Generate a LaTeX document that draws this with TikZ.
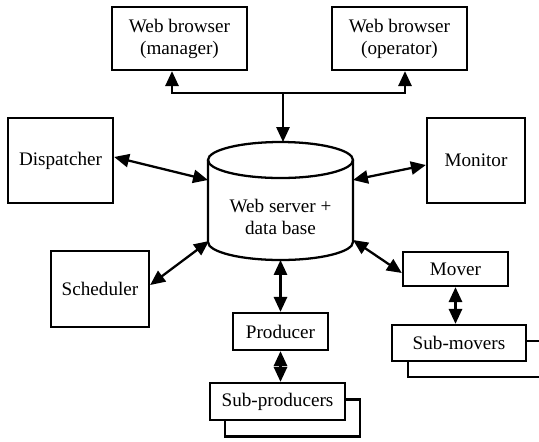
\documentclass[tikz,border=0pt]{standalone}
\usepackage{fontspec}
\setmainfont{Liberation Serif}
\usetikzlibrary{arrows.meta}
\usetikzlibrary{positioning}
\usetikzlibrary{calc}

\begin{document}
\begin{tikzpicture}[x=0.02cm, y=-0.02cm,
  unit/.style={draw, fill=white, line width=1.3pt, inner sep=0pt, align=center,
    font=\fontsize{10.9}{12.5}\selectfont},
  arr/.style={-{Triangle[length=8.5pt,width=7.5pt]}, line width=1.3pt},
  arrboth/.style={{Triangle[length=8.5pt,width=7.5pt]}-{Triangle[length=8.5pt,width=7.5pt]}, line width=1.3pt}]

  \def\u{0.02cm};

  \clip (0,0) rectangle (539,441);

  %browsers
  \node[unit, minimum width=135*\u, minimum height=63*\u] (wbm) at (179.5,38.5) {Web browser\\(manager)};
  \node[unit, minimum width=135*\u, minimum height=63*\u] (wbo) at (399.5,38.5) {Web browser\\(operator)};

  %left and right units
  \node[unit, minimum width=105*\u, minimum height=85*\u] (disp) at (60.5,160.5) {Dispatcher};
  \node[unit, minimum width=98*\u, minimum height=85*\u] (mon) at (476,160.5) {Monitor};
  \node[unit, minimum width=98*\u, minimum height=76*\u] (sched) at (100,289) {Scheduler};
  \node[unit, minimum width=105*\u, minimum height=34*\u] (mover) at (455.5,269) {Mover};
  \node[unit, minimum width=95*\u, minimum height=37*\u] (prod) at (280.5,331.5) {Producer};

  %stacked boxes
  \node[unit, minimum width=135*\u, minimum height=37*\u] (spB) at (292.5,418) {};
  \node[unit, minimum width=135*\u, minimum height=37*\u] (sp) at (277.5,401.5) {Sub-producers};
  \node[unit, minimum width=134*\u, minimum height=36*\u] (smvB) at (475,359) {};
  \node[unit, minimum width=134*\u, minimum height=36*\u] (smv) at (459,343) {Sub-movers};

  %server
  \draw[line width=1.3pt, fill=white] (208,160) -- (208,242)
    arc[start angle=180, end angle=0, x radius=72.5, y radius=18] -- (353,160);
  \draw[line width=1.3pt] (280.5,160) ellipse[x radius=72.5, y radius=18];
  \node[font=\fontsize{10.9}{12.5}\selectfont, align=center] (db) at (280.5,217) {Web server +\\data base};

  \coordinate (dbT) at (283,142);
  \coordinate (dbL) at (208,180);
  \coordinate (dbR) at (353,180);
  \coordinate (dbLL) at (209,241);
  \coordinate (dbRR) at (353,240);
  \coordinate (dbB) at (280.5,260);

  \coordinate (dispE) at ([yshift=0.07cm]disp.east);
  \coordinate (monW) at ([yshift=-0.09cm]mon.west);
  \coordinate (schedE) at ([yshift=0.08cm]sched.east);
  \coordinate (moverW) at ([yshift=-0.08cm]mover.west);

  %web links
  \coordinate (jn) at (283,93);
  \coordinate (jl) at (172,93);
  \coordinate (jr) at (405,93);
  \draw[arr] (jn) -| (wbm.south -| jl);
  \draw[arr] (jn) -| (wbo.south -| jr);
  \draw[arr] (jn) -- (dbT);

  %links
  \foreach \a/\b in {dispE/dbL, monW/dbR, schedE/dbLL, moverW/dbRR, prod.north/dbB}{
    \draw[arrboth] (\a) -- (\b);
  }
  \draw[arrboth] (prod.south) -- (prod.south |- sp.north);
  \draw[arrboth] (mover.south) -- (mover.south |- smv.north);

\end{tikzpicture}
\end{document}
